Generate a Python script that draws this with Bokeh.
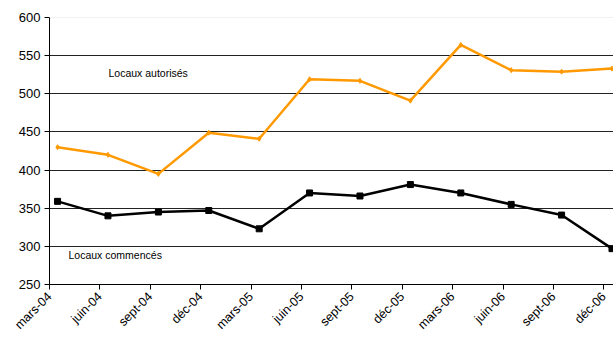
from bokeh.plotting import figure
from bokeh.models import Range1d, FixedTicker, Label, Span
from bokeh.embed import file_html
from bokeh.resources import INLINE

# Data
categories = ["mars-04", "juin-04", "sept-04", "déc-04", "mars-05", "juin-05",
              "sept-05", "déc-05", "mars-06", "juin-06", "sept-06", "déc-06"]
autorises = [430, 420, 395, 449, 441, 519, 517, 491, 564, 531, 529, 533]
commences = [359, 340, 345, 347, 323, 370, 366, 381, 370, 355, 341, 297]
y_ticks = [250, 300, 350, 400, 450, 500, 550, 600]

point_offset = 0.16  # data points sit mid-month, slightly right of each tick
xs = [i + point_offset for i in range(len(categories))]
tick_pos = list(range(len(categories)))

p = figure(width=613, height=342, output_backend="svg", toolbar_location=None,
           x_range=Range1d(0, 11.19), y_range=Range1d(250, 600),
           min_border_left=49, min_border_right=0, min_border_top=17,
           min_border_bottom=58)
p.outline_line_color = None
p.background_fill_color = "white"

# axes
p.xaxis.ticker = FixedTicker(ticks=tick_pos)
p.xaxis.major_label_overrides = {i: c for i, c in enumerate(categories)}
p.xaxis.major_label_orientation = 0.785398
p.xaxis.major_label_text_font = "Liberation Sans"
p.xaxis.major_label_text_font_size = "12.5px"
p.xaxis.major_label_text_color = "black"
p.xaxis.major_tick_out = 5
p.xaxis.major_tick_in = 0
p.xaxis.minor_tick_line_color = None
p.xaxis.axis_line_color = "black"
p.xaxis.major_tick_line_color = "black"
p.xaxis.major_label_standoff = 5

p.yaxis.ticker = FixedTicker(ticks=y_ticks)
p.yaxis.major_label_text_font = "Liberation Sans"
p.yaxis.major_label_text_font_size = "13px"
p.yaxis.major_label_text_color = "black"
p.yaxis.major_tick_out = 5
p.yaxis.major_tick_in = 0
p.yaxis.minor_tick_line_color = None
p.yaxis.axis_line_color = "black"
p.yaxis.major_tick_line_color = "black"
p.yaxis.major_label_standoff = 4

p.xgrid.grid_line_color = None
p.ygrid.ticker = FixedTicker(ticks=[300, 350, 400, 450, 500, 550])
p.ygrid.grid_line_color = "#222222"
p.ygrid.grid_line_width = 1
p.add_layout(Span(location=600, dimension="width", line_color="#e3e3e3", line_width=1))

# series
p.line(xs, autorises, line_color="#ff9900", line_width=2.5)
p.scatter(xs, autorises, marker="diamond", size=5, fill_color="#ff9900",
          line_color="#ff9900")
p.line(xs, commences, line_color="black", line_width=2.5)
p.scatter(xs, commences, marker="square", size=6, fill_color="black",
          line_color="black")

# labels
lab_font = "Liberation Sans"
p.add_layout(Label(x=1.17, y=527.7, text="Locaux autorisés", text_font=lab_font,
                   text_font_size="10.5px", text_baseline="middle", text_color="black"))
p.add_layout(Label(x=0.377, y=288.3, text="Locaux commencés", text_font=lab_font,
                   text_font_size="10.5px", text_baseline="middle", text_color="black"))

open("out.html", "w").write(file_html(p, INLINE))
